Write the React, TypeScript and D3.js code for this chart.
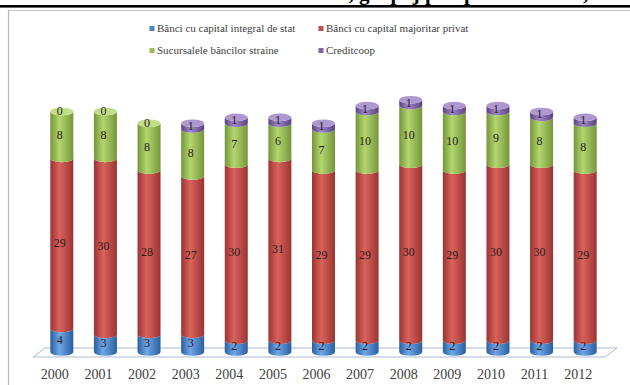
import React from 'react';
import * as d3 from 'd3';

const years = ['2000','2001','2002','2003','2004','2005','2006','2007','2008','2009','2010','2011','2012'];
const stat = [4,3,3,3,2,2,2,2,2,2,2,2,2];
const privat = [29,30,28,27,30,31,29,29,30,29,30,30,29];
const sucursale = [8,8,8,8,7,6,7,10,10,10,9,8,8];
const creditcoop = [0,0,0,1,1,1,1,1,1,1,1,1,1];
const seriesNames = ['Bănci cu capital integral de stat','Bănci cu capital majoritar privat','Sucursalele băncilor straine','Creditcoop'];

const palette = [
  { dark: '#2b5f9e', light: '#6ea6e6', cap: '#7cb0ea', key: '#4f81bd' },
  { dark: '#9a3431', light: '#da625c', cap: '#e07a74', key: '#c0504d' },
  { dark: '#74963a', light: '#b4d66f', cap: '#c2de88', key: '#9bbb59' },
  { dark: '#5a4380', light: '#9f86c6', cap: '#ad98d0', key: '#8064a2' },
];

const SERIF = 'Liberation Serif';

export default function App() {
  const W = 630, H = 385;
  const values = [stat, privat, sucursale, creditcoop];
  const x = d3.scalePoint<string>().domain(years).range([40, 607]).padding(0.5);
  const xl = d3.scalePoint<string>().domain(years).range([33, 600]).padding(0.5);
  const y = d3.scaleLinear().domain([0, 45]).range([352, 88]);
  const rx = 11.5, ry = 3.8;

  const seg = (cx: number, y0: number, y1: number) =>
    `M${cx - rx},${y1} A${rx},${ry} 0 0 0 ${cx + rx},${y1} L${cx + rx},${y0} A${rx},${ry} 0 0 1 ${cx - rx},${y0} Z`;

  return (
    <svg width={W} height={H} style={{ position: 'absolute', left: 0, top: 0, fontFamily: SERIF }}>
      <defs>
        {palette.map((p, i) => (
          <linearGradient key={i} id={`g${i}`} x1="0" x2="1" y1="0" y2="0">
            <stop offset="0" stopColor={p.dark} />
            <stop offset="0.4" stopColor={p.light} />
            <stop offset="1" stopColor={p.dark} />
          </linearGradient>
        ))}
      </defs>
      <rect x={0} y={0} width={W} height={H} fill="#fff" />
      <text x={330} y={0} textAnchor="middle" fontWeight="bold" fontSize={21} fill="#000" style={{ fontFamily: SERIF }}>
        Structura sistemului bancar din România, grupaj pe tipuri de bănci, 2000-2012
      </text>
      <rect x={0} y={5} width={W} height={2.6} fill="#000" />
      <line x1={8} y1={10.5} x2={W} y2={10.5} stroke="#c8c8c8" strokeWidth={1.2} />
      <line x1={8.5} y1={10} x2={8.5} y2={H} stroke="#b8b8b8" strokeWidth={1.2} />

      {/* legend */}
      {seriesNames.map((n, i) => {
        const lx = i % 2 === 0 ? 152 : 321;
        const ly = i < 2 ? 29 : 51;
        return (
          <g key={n}>
            <rect x={lx - 2.5} y={ly - 3} width={5} height={5} fill={palette[i].key} />
            <text x={lx + 5} y={ly + 3} fontSize={11} fill="#404040" style={{ fontFamily: SERIF }}>{n}</text>
          </g>
        );
      })}

      {/* floor */}
      <path d="M33,357 L45,348 L617,348 L605,357 Z" fill="#fff" stroke="#a9bcd0" strokeWidth={1} />

      {/* bars */}
      {years.map((yr, j) => {
        const cx = x(yr) as number;
        let acc = 0;
        const segs: React.ReactNode[] = [];
        const labels: React.ReactNode[] = [];
        let topIdx = 0;
        values.forEach((arr, i) => {
          const v = arr[j];
          const y0 = y(acc), y1 = y(acc + v);
          if (v > 0) {
            segs.push(<path key={`s${i}`} d={seg(cx, y0, y1)} fill={`url(#g${i})`} />);
            topIdx = i;
          }
          labels.push(
            <text key={`l${i}`} x={cx - 2} y={(y0 + y1) / 2 + 4} fontSize={12} textAnchor="middle" fill="#2a1a1a" style={{ fontFamily: SERIF }}>{v}</text>
          );
          acc += v;
        });
        const yt = y(acc);
        return (
          <g key={yr}>
            {segs}
            <ellipse cx={cx} cy={yt} rx={rx} ry={ry} fill={palette[topIdx].cap} />
            {labels}
          </g>
        );
      })}

      {/* x labels */}
      {years.map((yr) => (
        <text key={yr} x={xl(yr) as number} y={379} fontSize={14} textAnchor="middle" fill="#404040" style={{ fontFamily: SERIF }}>{yr}</text>
      ))}
    </svg>
  );
}
